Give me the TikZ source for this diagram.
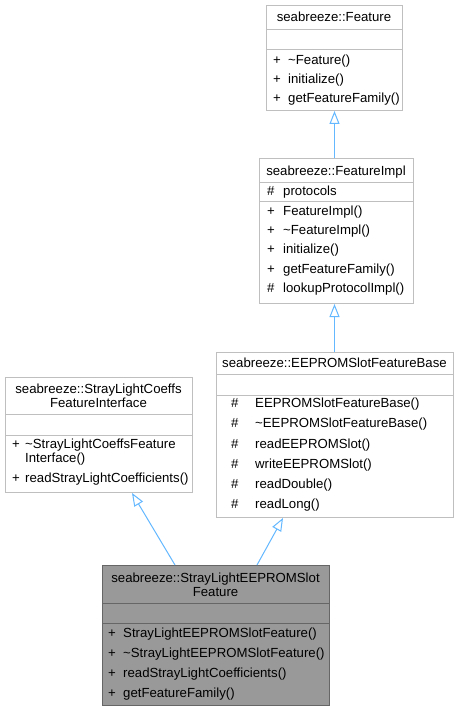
\documentclass[tikz,border=0pt]{standalone}
\usepackage{fontspec}
\setmainfont{Liberation Sans}
\usetikzlibrary{arrows.meta}
\definecolor{edgeblue}{HTML}{63B8FF}
\definecolor{boxline}{HTML}{BFBFBF}
\definecolor{curfill}{HTML}{999999}
\definecolor{curline}{HTML}{666666}
\begin{document}
\begin{tikzpicture}[x=1pt,y=-1pt,
  font=\fontsize{13.2}{15}\selectfont,
  cls/.style={draw=boxline, fill=white, line width=1pt, inner sep=0pt, anchor=north west},
  cur/.style={draw=curline, fill=curfill, line width=1pt, inner sep=0pt, anchor=north west},
  ttl/.style={inner sep=0pt, text height=10pt, text depth=1pt, anchor=center},
  row/.style={inner sep=0pt, text height=10pt, text depth=1pt, anchor=west},
  sep/.style={draw=boxline, line width=1pt},
  csep/.style={draw=curline, line width=1pt},
  inh/.style={draw=edgeblue, line width=1pt, {Triangle[length=13pt, width=10pt, fill=white]}-}
]
\useasboundingbox (0,0) rectangle (459,711);
\fill[white] (0,0) rectangle (459,711);

% Feature
\node[cls, minimum width=136pt, minimum height=105pt] (feat) at (266,5) {};
\node[ttl] (featT) at (334,17.5) {seabreeze::Feature};
\draw[sep] (266,30) -- (402,30);
\draw[sep] (266,50) -- (402,50);
\node[row] (f1s) at (273,60) {+}; \node[row] (f1) at (288,60) {\textasciitilde Feature()};
\node[row] (f2s) at (273,79) {+}; \node[row] (f2) at (288,79) {initialize()};
\node[row] (f3s) at (273,98) {+}; \node[row] (f3) at (288,98) {getFeatureFamily()};

% FeatureImpl
\node[cls, minimum width=154pt, minimum height=145pt] (impl) at (259,158) {};
\node[ttl] (implT) at (336,171) {seabreeze::FeatureImpl};
\draw[sep] (259,183) -- (413,183);
\draw[sep] (259,202) -- (413,202);
\node[row] (i0s) at (267,191) {\#}; \node[row] (i0) at (283,191) {protocols};
\node[row] (i1s) at (267,211) {+}; \node[row] (i1) at (283,211) {FeatureImpl()};
\node[row] (i2s) at (267,230) {+}; \node[row] (i2) at (283,230) {\textasciitilde FeatureImpl()};
\node[row] (i3s) at (267,249) {+}; \node[row] (i3) at (283,249) {initialize()};
\node[row] (i4s) at (267,269) {+}; \node[row] (i4) at (283,269) {getFeatureFamily()};
\node[row] (i5s) at (267,288) {\#}; \node[row] (i5) at (283,288) {lookupProtocolImpl()};

% EEPROMSlotFeatureBase
\node[cls, minimum width=237pt, minimum height=165pt] (base) at (216,352) {};
\node[ttl] (baseT) at (334.5,363) {seabreeze::EEPROMSlotFeatureBase};
\draw[sep] (216,374) -- (453,374);
\draw[sep] (216,395) -- (453,395);
\node[row] (b1s) at (231,403) {\#}; \node[row] (b1) at (255,403) {EEPROMSlotFeatureBase()};
\node[row] (b2s) at (231,423) {\#}; \node[row] (b2) at (255,423) {\textasciitilde EEPROMSlotFeatureBase()};
\node[row] (b3s) at (231,444) {\#}; \node[row] (b3) at (255,444) {readEEPROMSlot()};
\node[row] (b4s) at (231,464) {\#}; \node[row] (b4) at (255,464) {writeEEPROMSlot()};
\node[row] (b5s) at (231,484) {\#}; \node[row] (b5) at (255,484) {readDouble()};
\node[row] (b6s) at (231,504) {\#}; \node[row] (b6) at (255,504) {readLong()};

% StrayLightCoeffsFeatureInterface
\node[cls, minimum width=187pt, minimum height=115pt] (iface) at (5,377) {};
\node[ttl] (ifT1) at (98.5,389) {seabreeze::StrayLightCoeffs};
\node[ttl] (ifT2) at (98.5,403) {FeatureInterface};
\draw[sep] (5,414) -- (192,414);
\draw[sep] (5,435) -- (192,435);
\node[row] (c1s) at (12,444) {+}; \node[row] (c1) at (25,444) {\textasciitilde StrayLightCoeffsFeature};
\node[row] (c1b) at (25,458) {Interface()};
\node[row] (c2s) at (12,478) {+}; \node[row] (c2) at (25,478) {readStrayLightCoefficients()};

% StrayLightEEPROMSlotFeature
\node[cur, minimum width=227pt, minimum height=140pt] (main) at (102,565) {};
\node[ttl] (mT1) at (215.5,578) {seabreeze::StrayLightEEPROMSlot};
\node[ttl] (mT2) at (215.5,592) {Feature};
\draw[csep] (102,603) -- (329,603);
\draw[csep] (102,623) -- (329,623);
\node[row] (m1s) at (108,633) {+}; \node[row] (m1) at (123,633) {StrayLightEEPROMSlotFeature()};
\node[row] (m2s) at (108,653) {+}; \node[row] (m2) at (123,653) {\textasciitilde StrayLightEEPROMSlotFeature()};
\node[row] (m3s) at (108,673) {+}; \node[row] (m3) at (123,673) {readStrayLightCoefficients()};
\node[row] (m4s) at (108,693) {+}; \node[row] (m4) at (123,693) {getFeatureFamily()};

% inheritance connectors
\draw[inh] (feat.south) -- (impl.north -| feat.south);
\draw[inh] (impl.south -| feat.south) -- (base.north -| feat.south);
\draw[inh] ([xshift=127pt]iface.south west) -- ([xshift=73pt]main.north west);
\draw[inh] ([xshift=67pt]base.south west) -- ([xshift=155pt]main.north west);
\end{tikzpicture}
\end{document}
